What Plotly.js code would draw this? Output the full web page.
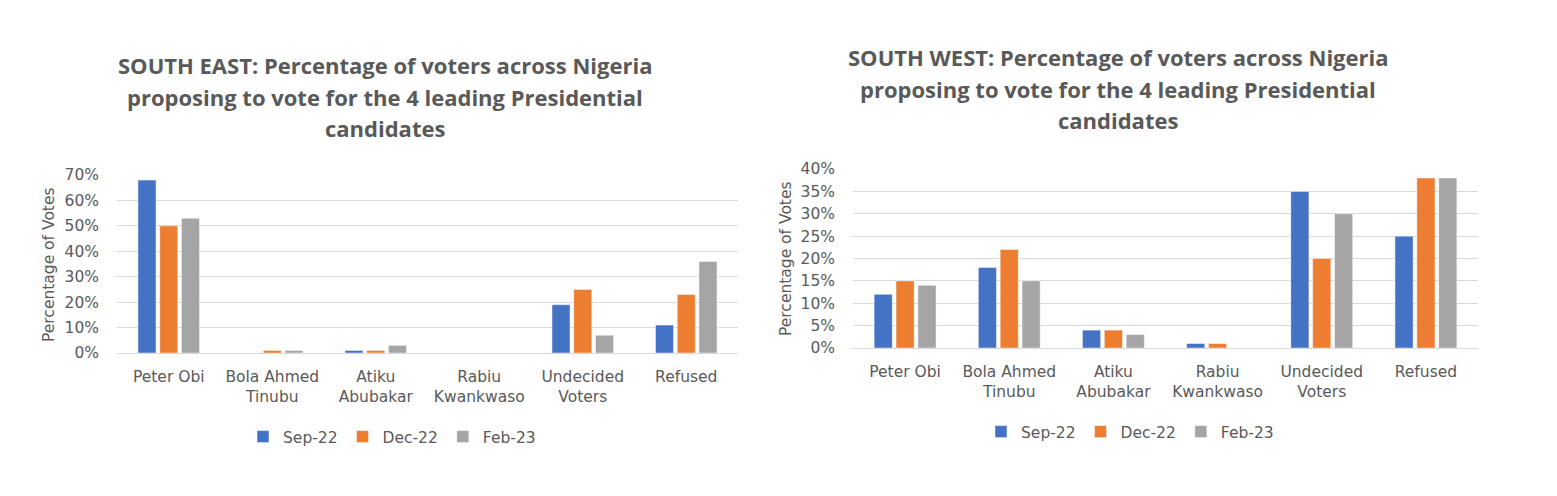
<!DOCTYPE html>
<html>
<head>
<meta charset="utf-8">
<script src="https://cdn.plot.ly/plotly-3.0.1.min.js"></script>
<style>
html,body{margin:0;padding:0;background:#fff;}
#chart{width:1557px;height:496px;}
</style>
</head>
<body>
<div id="chart"></div>
<script>
// ---- data ----
const categories = ['Peter Obi', 'Bola Ahmed<br>Tinubu', 'Atiku<br>Abubakar', 'Rabiu<br>Kwankwaso', 'Undecided<br>Voters', 'Refused'];
const seriesNames = ['Sep-22', 'Dec-22', 'Feb-23'];
const southEastSep22 = [68, 0, 1, 0, 19, 11];
const southEastDec22 = [50, 1, 1, 0, 25, 23];
const southEastFeb23 = [53, 1, 3, 0, 7, 36];
const southWestSep22 = [12, 18, 4, 1, 35, 25];
const southWestDec22 = [15, 22, 4, 1, 20, 38];
const southWestFeb23 = [14, 15, 3, 0, 30, 38];
const titleSE = ['SOUTH EAST: Percentage of voters across Nigeria', 'proposing to vote for the 4 leading Presidential', 'candidates'];
const titleSW = ['SOUTH WEST: Percentage of voters across Nigeria', 'proposing to vote for the 4 leading Presidential', 'candidates'];
const yTitle = 'Percentage of Votes';

// ---- styling ----
const colors = ['#4472C4', '#ED7D31', '#A5A5A5'];
const textColor = '#595959';
const gridColor = '#D9D9D9';
const W = 1557, H = 496;
const px = x => x / W;
const py = y => 1 - y / H;

function bar(y, i, xa, ya, legendId) {
  return {
    type: 'bar', x: categories, y: y, name: seriesNames[i],
    xaxis: xa, yaxis: ya, legend: legendId,
    marker: {color: colors[i], line: {color: 'rgba(255,255,255,0.6)', width: 0.8}},
    hoverinfo: 'x+y+name'
  };
}

const traces = [
  bar(southEastSep22, 0, 'x', 'y', 'legend'),
  bar(southEastDec22, 1, 'x', 'y', 'legend'),
  bar(southEastFeb23, 2, 'x', 'y', 'legend'),
  bar(southWestSep22, 0, 'x2', 'y2', 'legend2'),
  bar(southWestDec22, 1, 'x2', 'y2', 'legend2'),
  bar(southWestFeb23, 2, 'x2', 'y2', 'legend2')
];

const tickFont = {family: 'DejaVu Sans', size: 15.5, color: textColor};

function xAxis(d0, d1, anchor, standoff) {
  return {
    domain: [px(d0), px(d1)], anchor: anchor, type: 'category',
    showgrid: false, showline: false, zeroline: false, ticks: '',
    tickfont: tickFont, ticklabelstandoff: standoff, fixedrange: true
  };
}
function yAxis(top, bottom, maxV, dt, anchor) {
  return {
    domain: [py(bottom), py(top)], anchor: anchor, range: [0, maxV], dtick: dt,
    ticksuffix: '%', showgrid: true, gridcolor: gridColor, gridwidth: 1,
    zeroline: true, zerolinecolor: gridColor, zerolinewidth: 1,
    showline: false, ticks: '', tickfont: tickFont, ticklabelstandoff: 17, fixedrange: true
  };
}

const annotations = [];
const titleFont = {family: 'Open Sans', size: 22, color: textColor, weight: 'bold'};
[[titleSE, 385, [65, 97, 128]], [titleSW, 1118, [57, 89, 120]]].forEach(([lines, cx, ys]) => {
  lines.forEach((t, k) => annotations.push({
    text: '<b>' + t + '</b>', x: px(cx), y: py(ys[k]), xref: 'paper', yref: 'paper',
    xanchor: 'center', yanchor: 'middle', showarrow: false, font: titleFont
  }));
});
[[49, 265], [786, 259]].forEach(([cx, cy]) => annotations.push({
  text: yTitle, x: px(cx), y: py(cy), xref: 'paper', yref: 'paper', textangle: -90,
  xanchor: 'center', yanchor: 'middle', showarrow: false,
  font: {family: 'DejaVu Sans', size: 15.5, color: textColor}
}));

function legendCfg(cx, cy) {
  return {
    orientation: 'h', x: px(cx), y: py(cy), xanchor: 'center', yanchor: 'middle',
    font: {family: 'DejaVu Sans', size: 15.5, color: textColor},
    bgcolor: 'rgba(0,0,0,0)', itemclick: false, itemdoubleclick: false, traceorder: 'normal'
  };
}

const layout = {
  width: W, height: H, margin: {l: 0, r: 0, t: 0, b: 0},
  paper_bgcolor: '#ffffff', plot_bgcolor: '#ffffff',
  barmode: 'group', bargap: 0.37, bargroupgap: 0.17,
  showlegend: true,
  xaxis: xAxis(117, 738, 'y', 12),
  yaxis: yAxis(175, 353, 70, 10, 'x'),
  xaxis2: xAxis(853, 1478, 'y2', 12),
  yaxis2: yAxis(169, 348, 40, 5, 'x2'),
  legend: legendCfg(392, 437),
  legend2: legendCfg(1130, 432),
  annotations: annotations,
  font: {family: 'DejaVu Sans', color: textColor}
};

Plotly.newPlot('chart', traces, layout, {displayModeBar: false, staticPlot: true});
</script>
</body>
</html>
